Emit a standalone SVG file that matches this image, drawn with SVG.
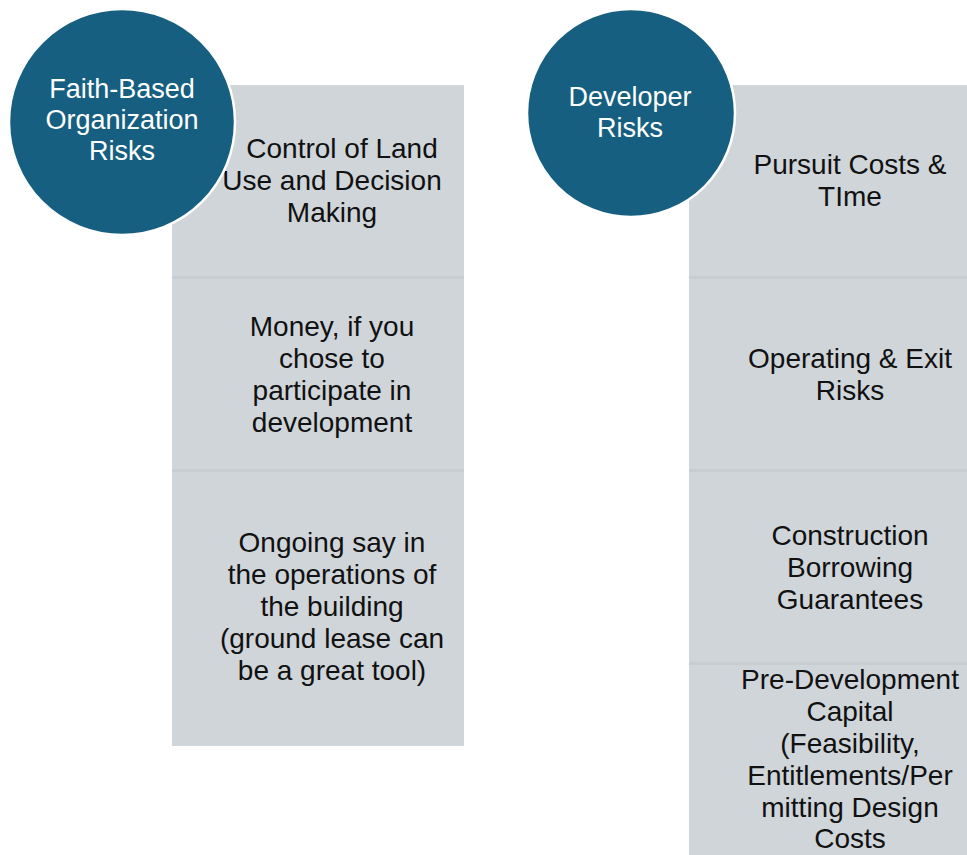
<svg xmlns="http://www.w3.org/2000/svg" width="967" height="855" viewBox="0 0 967 855">
  <style>
    .panel { fill: #D0D5DA; }
    .sep { fill: #C8CDD2; }
    .hub { fill: #175F80; stroke: #FFFFFF; stroke-width: 2.5; }
    .item { font-family: "Liberation Sans", Arial, sans-serif; font-size: 28px; fill: #111111; text-anchor: middle; }
    .hubtext { font-family: "Liberation Sans", Arial, sans-serif; font-size: 27px; fill: #FFFFFF; text-anchor: middle; }
  </style>
  <rect width="967" height="855" fill="#FFFFFF"/>

  <!-- left stack: faith-based organization risks -->
  <g id="fbo-control">
    <rect class="panel" x="172" y="85" width="292" height="193"/>
    <text class="item" x="342" y="158">Control of Land</text>
    <text class="item" x="332" y="190">Use and Decision</text>
    <text class="item" x="332" y="222">Making</text>
  </g>
  <g id="fbo-money">
    <rect class="panel" x="172" y="278" width="292" height="193"/>
    <rect class="sep" x="172" y="276" width="292" height="3"/>
    <text class="item" x="332" y="336">Money, if you</text>
    <text class="item" x="332" y="368">chose to</text>
    <text class="item" x="332" y="400">participate in</text>
    <text class="item" x="332" y="432">development</text>
  </g>
  <g id="fbo-ongoing">
    <rect class="panel" x="172" y="471" width="292" height="275"/>
    <rect class="sep" x="172" y="469" width="292" height="3"/>
    <text class="item" x="332" y="552">Ongoing say in</text>
    <text class="item" x="332" y="584">the operations of</text>
    <text class="item" x="332" y="616">the building</text>
    <text class="item" x="332" y="648">(ground lease can</text>
    <text class="item" x="332" y="680">be a great tool)</text>
  </g>
  <g id="fbo-hub">
    <circle class="hub" cx="122" cy="122" r="113"/>
    <text class="hubtext" x="122" y="98">Faith-Based</text>
    <text class="hubtext" x="122" y="129">Organization</text>
    <text class="hubtext" x="122" y="160">Risks</text>
  </g>

  <!-- right stack: developer risks -->
  <g id="dev-pursuit">
    <rect class="panel" x="689" y="85" width="290" height="193"/>
    <text class="item" x="850" y="174">Pursuit Costs &amp;</text>
    <text class="item" x="850" y="206">TIme</text>
  </g>
  <g id="dev-operating">
    <rect class="panel" x="689" y="278" width="290" height="193"/>
    <rect class="sep" x="689" y="276" width="290" height="3"/>
    <text class="item" x="850" y="368">Operating &amp; Exit</text>
    <text class="item" x="850" y="400">Risks</text>
  </g>
  <g id="dev-construction">
    <rect class="panel" x="689" y="471" width="290" height="193"/>
    <rect class="sep" x="689" y="469" width="290" height="3"/>
    <text class="item" x="850" y="545">Construction</text>
    <text class="item" x="850" y="577">Borrowing</text>
    <text class="item" x="850" y="609">Guarantees</text>
  </g>
  <g id="dev-predevelopment">
    <rect class="panel" x="689" y="664" width="290" height="191"/>
    <rect class="sep" x="689" y="662" width="290" height="3"/>
    <text class="item" x="850" y="689">Pre-Development</text>
    <text class="item" x="850" y="721">Capital</text>
    <text class="item" x="850" y="753">(Feasibility,</text>
    <text class="item" x="850" y="785">Entitlements/Per</text>
    <text class="item" x="850" y="817">mitting Design</text>
    <text class="item" x="850" y="848">Costs</text>
  </g>
  <g id="dev-hub">
    <circle class="hub" cx="631" cy="113" r="104"/>
    <text class="hubtext" x="630" y="106">Developer</text>
    <text class="hubtext" x="630" y="137">Risks</text>
  </g>

  <g id="connectors"/>
</svg>
